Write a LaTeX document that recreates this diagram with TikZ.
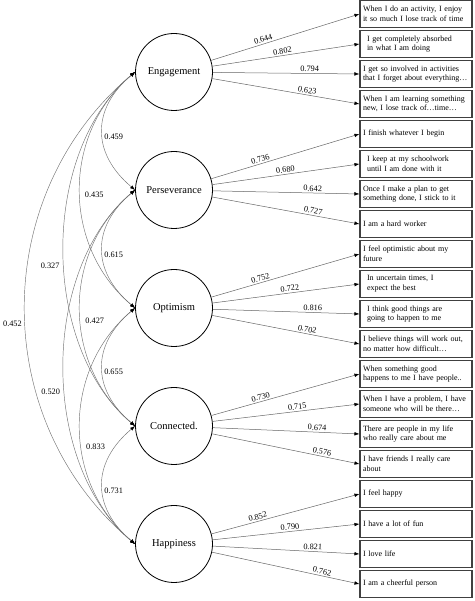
\documentclass[tikz,border=0pt]{standalone}
\usepackage{fontspec}
\setmainfont{Liberation Serif}
\usetikzlibrary{arrows.meta}

\tikzset{
  factor/.style={circle, draw, line width=0.8pt, minimum size=77pt, inner sep=0pt, font=\fontsize{10.5}{12}\selectfont},
  item/.style={draw=black!75, line width=1.1pt, minimum width=112pt, minimum height=27pt, text width=106pt, inner xsep=3pt, align=left, font=\fontsize{8}{9.6}\selectfont},
  load/.style={draw=black!60, line width=0.5pt, -{Latex[length=5pt,width=3.6pt,black]}},
  cov/.style={draw=black!55, line width=0.45pt, {Latex[length=5pt,width=3.6pt,black]}-{Latex[length=5pt,width=3.6pt,black]}},
  val/.style={font=\fontsize{8.3}{10}\selectfont, inner sep=1.5pt}
}

\begin{document}
\begin{tikzpicture}[x=1pt, y=1pt]
\useasboundingbox (0,0) rectangle (474,601);

\node[factor] (eng) at (174,529) {Engagement};
\node[factor] (per) at (174,411) {Perseverance};
\node[factor] (opt) at (174,293) {Optimism};
\node[factor] (con) at (174,175) {Connected.};
\node[factor] (hap) at (174,57) {Happiness};

\node[item] (i1) at (416,587) {When I do an activity, I enjoy\\it so much I lose track of time};
\node[item] (i2) at (416,557) {\hspace*{4pt}I get completely absorbed\\\hspace*{4pt}in what I am doing};
\node[item] (i3) at (416,527) {I get so involved in activities\\that I forget about everything…};
\node[item] (i4) at (416,497) {When I am learning something\\new, I lose track of…time…};
\node[item] (i5) at (416,467) {I finish whatever I begin};
\node[item] (i6) at (416,437) {\hspace*{4pt}I keep at my schoolwork\\\hspace*{4pt}until I am done with it};
\node[item] (i7) at (416,407) {Once I make a plan to get\\something done, I stick to it};
\node[item] (i8) at (416,377) {I am a hard worker};
\node[item] (i9) at (416,347) {I feel optimistic about my\\future};
\node[item] (i10) at (416,317) {\hspace*{4pt}In uncertain times, I\\\hspace*{4pt}expect the best};
\node[item] (i11) at (416,287) {\hspace*{4pt}I think good things are\\\hspace*{4pt}going to happen to me};
\node[item] (i12) at (416,257) {I believe things will work out,\\no matter how difficult…};
\node[item] (i13) at (416,227) {When something good\\happens to me I have people..};
\node[item] (i14) at (416,197) {When I have a problem, I have\\someone who will be there…};
\node[item] (i15) at (416,167) {There are people in my life\\who really care about me};
\node[item] (i16) at (416,137) {I have friends I really care\\about};
\node[item] (i17) at (416,107) {I feel happy};
\node[item] (i18) at (416,77) {I have a lot of fun};
\node[item] (i19) at (416,47) {I love life};
\node[item] (i20) at (416,17) {I am a cheerful person};

\draw[load] (eng) -- node[val, sloped, above, pos=0.36] {0.644} (i1.west);
\draw[load] (eng) -- node[val, sloped, above, pos=0.48] {0.802} (i2.west);
\draw[load] (eng) -- node[val, sloped, above, pos=0.66] {0.794} (i3.west);
\draw[load] (eng) -- node[val, sloped, above, pos=0.64] {0.623} (i4.west);
\draw[load] (per) -- node[val, sloped, above, pos=0.34] {0.736} (i5.west);
\draw[load] (per) -- node[val, sloped, above, pos=0.50] {0.680} (i6.west);
\draw[load] (per) -- node[val, sloped, above, pos=0.68] {0.642} (i7.west);
\draw[load] (per) -- node[val, sloped, above, pos=0.68] {0.727} (i8.west);
\draw[load] (opt) -- node[val, sloped, above, pos=0.34] {0.752} (i9.west);
\draw[load] (opt) -- node[val, sloped, above, pos=0.53] {0.722} (i10.west);
\draw[load] (opt) -- node[val, sloped, above, pos=0.68] {0.816} (i11.west);
\draw[load] (opt) -- node[val, sloped, above, pos=0.64] {0.702} (i12.west);
\draw[load] (con) -- node[val, sloped, above, pos=0.34] {0.730} (i13.west);
\draw[load] (con) -- node[val, sloped, above, pos=0.58] {0.715} (i14.west);
\draw[load] (con) -- node[val, sloped, above, pos=0.71] {0.674} (i15.west);
\draw[load] (con) -- node[val, sloped, above, pos=0.74] {0.576} (i16.west);
\draw[load] (hap) -- node[val, sloped, above, pos=0.32] {0.852} (i17.west);
\draw[load] (hap) -- node[val, sloped, above, pos=0.53] {0.790} (i18.west);
\draw[load] (hap) -- node[val, sloped, above, pos=0.68] {0.821} (i19.west);
\draw[load] (hap) -- node[val, sloped, above, pos=0.74] {0.762} (i20.west);

\draw[cov] (eng.west) to[bend right=50, looseness=1.24] node[val, pos=0.55, right] {0.459} (per.west);
\draw[cov] (per.west) to[bend right=50, looseness=1.24] node[val, pos=0.55, right] {0.615} (opt.west);
\draw[cov] (opt.west) to[bend right=50, looseness=1.24] node[val, pos=0.54, right] {0.655} (con.west);
\draw[cov] (con.west) to[bend right=50, looseness=1.24] node[val, pos=0.55, right] {0.731} (hap.west);
\draw[cov] (eng.west) to[bend right=50, looseness=1.04] node[val, pos=0.52, right, xshift=3pt] {0.435} (opt.west);
\draw[cov] (per.west) to[bend right=50, looseness=1.04] node[val, pos=0.55, right, xshift=3pt] {0.427} (con.west);
\draw[cov] (opt.west) to[bend right=50, looseness=1.04] node[val, pos=0.58, right, xshift=3pt] {0.833} (hap.west);
\draw[cov] (eng.west) to[bend right=50, looseness=0.9] node[val, pos=0.54, left, xshift=-3pt] {0.327} (con.west);
\draw[cov] (per.west) to[bend right=50, looseness=0.9] node[val, pos=0.56, left, xshift=-3pt] {0.520} (hap.west);
\draw[cov] (eng.west) to[bend right=50, looseness=1.04] node[val, pos=0.53, left, xshift=-2pt] {0.452} (hap.west);
\end{tikzpicture}
\end{document}
